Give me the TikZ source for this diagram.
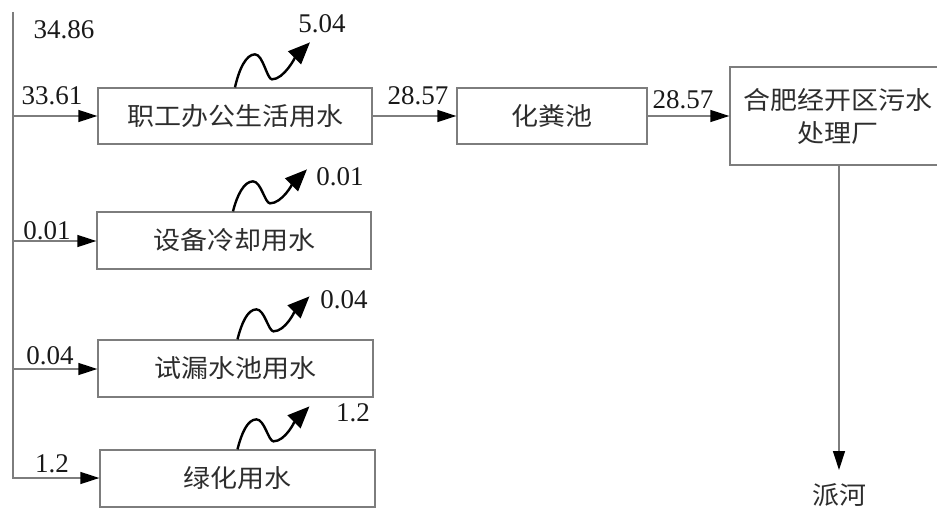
\documentclass[tikz,border=0pt]{standalone}
\usepackage{fontspec}
\setmainfont{Liberation Serif}
\newfontfamily\cjk[FakeStretch=1.08]{Noto Sans CJK SC}
\usetikzlibrary{arrows.meta}
\definecolor{lg}{RGB}{125,125,125}
\definecolor{tx}{RGB}{45,45,45}
\begin{document}
\begin{tikzpicture}[x=1pt,y=-1pt,
  box/.style={draw=lg, line width=1.3pt, inner sep=0pt, font=\cjk\fontsize{25}{33}\selectfont, text=tx, align=center},
  ctext/.style={inner sep=0pt, font=\cjk\fontsize{25}{33}\selectfont, text=tx},
  num/.style={font=\fontsize{27}{27}\selectfont, text=black!90, inner sep=0pt},
  conn/.style={draw=lg, line width=1.3pt, -{Triangle[length=19pt,width=12pt,color=black,fill=black]}},
  wave/.style={draw=black, line width=2.4pt, -{Triangle[length=22pt,width=18pt,color=black,fill=black]}}]
\useasboundingbox (0,0) rectangle (937,508);
\clip (0,0) rectangle (937,508);

% boxes
\node[box, minimum width=274pt, minimum height=56pt] (b1) at (235,116) {职工办公生活用水};
\node[box, minimum width=274pt, minimum height=57pt] (b2) at (234,240.5) {设备冷却用水};
\node[box, minimum width=275pt, minimum height=57pt] (b3) at (235.5,368.5) {试漏水池用水};
\node[box, minimum width=275pt, minimum height=57pt] (b4) at (237.5,478.5) {绿化用水};
\node[box, minimum width=190pt, minimum height=56pt] (hf) at (552,116) {化粪池};
\node[box, minimum width=216pt, minimum height=98pt] (wt) at (838,116) {合肥经开区污水\\处理厂};
\node[ctext] (ph) at (839,495) {派河};

% bus and feed arrows
\coordinate (top) at (13,12);
\coordinate (j1) at (13,116);
\coordinate (j2) at (13,241);
\coordinate (j3) at (13,369);
\coordinate (j4) at (13,478);
\coordinate (rv) at (839,470);
\draw[conn] (top) -- (j4) -- (j4 -| b4.west);
\draw[conn] (j1) -- (j1 -| b1.west);
\draw[conn] (j2) -- (j2 -| b2.west);
\draw[conn] (j3) -- (j3 -| b3.west);
\draw[conn] (b1.east) -- (hf.west);
\draw[conn] (hf.east) -- (hf.east -| wt.west);
\draw[conn] (wt.south -| rv) -- (rv);

% evaporation (loss) wavy arrows
\draw[wave] (b1.north) .. controls +(4,-18) and +(-9,0) .. ++(20,-33)
  .. controls +(8,0) and +(-5,0) .. ++(17,25)
  .. controls +(12,0) and +(-14,14) .. ++(38,-37);
\draw[wave] ([xshift=-1pt]b2.north) .. controls +(4,-16) and +(-9,0) .. ++(20,-30)
  .. controls +(8,0) and +(-5,0) .. ++(17,22)
  .. controls +(12,0) and +(-14,14) .. ++(37,-34);
\draw[wave] ([xshift=2pt]b3.north) .. controls +(4,-16) and +(-9,0) .. ++(19,-30)
  .. controls +(8,0) and +(-5,0) .. ++(17,22)
  .. controls +(12,0) and +(-14,14) .. ++(36,-35);
\draw[wave] (b4.north) .. controls +(4,-16) and +(-9,0) .. ++(19,-30)
  .. controls +(8,0) and +(-5,0) .. ++(17,22)
  .. controls +(12,0) and +(-14,14) .. ++(36,-35);

% number labels
\node[num] (n0) at (64,30) {34.86};
\node[num] (n1) at (52,96) {33.61};
\node[num] (n2) at (47,231) {0.01};
\node[num] (n3) at (50,356) {0.04};
\node[num] (n4) at (52,464) {1.2};
\node[num] (e1) at (322,24) {5.04};
\node[num] (e2) at (340,177) {0.01};
\node[num] (e3) at (344,300) {0.04};
\node[num] (e4) at (353,413) {1.2};
\node[num] (f1) at (418,96) {28.57};
\node[num] (f2) at (683,100) {28.57};
\end{tikzpicture}
\end{document}
